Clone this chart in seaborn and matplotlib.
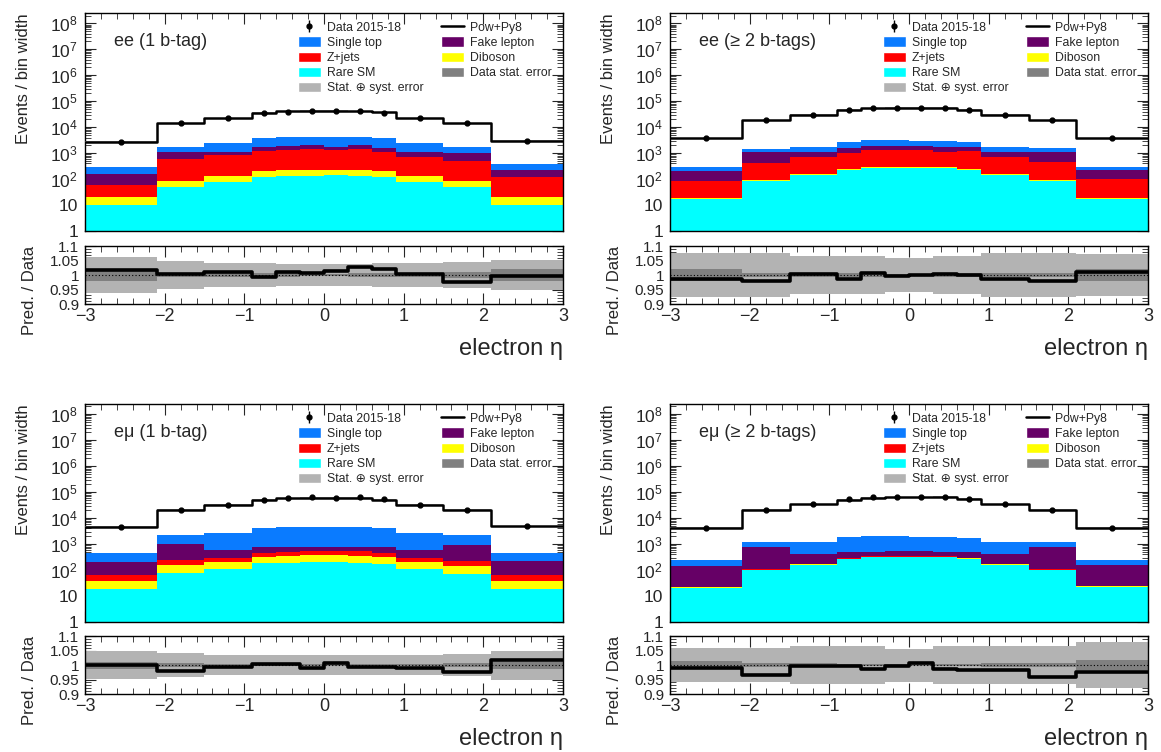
import numpy as np
import pandas as pd
import matplotlib
matplotlib.use('Agg')
import matplotlib.pyplot as plt
import seaborn as sns
from matplotlib.patches import Patch
from matplotlib.lines import Line2D
from matplotlib.ticker import FixedLocator, MultipleLocator, LogLocator, NullFormatter

# Binning and process definitions
eta_edges = [-3, -2.1, -1.5, -0.9, -0.6, -0.3, 0, 0.3, 0.6, 0.9, 1.5, 2.1, 3]
processes = ['Rare SM', 'Diboson', 'Z+jets', 'Fake lepton', 'Single top']   # bottom -> top of stack
proc_colors = ['#00ffff', '#ffff00', '#ff0000', '#660066', '#0a7bff']

# ee, 1 b-tag
ee1b_rare = [10, 48, 74, 119, 130, 137, 141, 137, 123, 74, 48, 10]
ee1b_diboson = [10, 40, 52, 82, 90, 97, 93, 91, 78, 60, 40, 10]
ee1b_zjets = [37, 530, 700, 1060, 1080, 1190, 1070, 1220, 910, 560, 400, 100]
ee1b_fake = [107, 530, 280, 430, 540, 580, 480, 550, 520, 390, 530, 95]
ee1b_single = [124, 640, 1290, 2030, 2230, 2350, 2290, 2350, 2090, 1320, 670, 150]
ee1b_total = [2770, 14100, 21900, 36300, 40600, 43500, 43500, 41600, 37200, 21900, 14100, 2950]
ee1b_ratio = [1.017, 1.003, 1.009, 0.994, 1.011, 1.006, 1.013, 1.028, 1.021, 1.003, 0.977, 0.997]
ee1b_syst = [0.061, 0.048, 0.040, 0.040, 0.038, 0.037, 0.037, 0.038, 0.040, 0.040, 0.045, 0.053]
ee1b_stat = [0.019, 0.008, 0.007, 0.006, 0.006, 0.005, 0.005, 0.006, 0.006, 0.007, 0.009, 0.020]

# ee, >= 2 b-tags
ee2b_rare = [17, 86, 146, 228, 270, 270, 270, 270, 234, 146, 88, 17.5]
ee2b_diboson = [1, 5, 9, 14, 16, 16, 16, 16, 14, 9, 5, 1]
ee2b_zjets = [70, 315, 540, 810, 1085, 1085, 1005, 825, 940, 585, 345, 82]
ee2b_fake = [120, 742, 455, 580, 590, 590, 670, 580, 600, 410, 673, 127]
ee2b_single = [80, 360, 590, 990, 1180, 1260, 1060, 1170, 910, 590, 440, 78]
ee2b_total = [3720, 18300, 30300, 45700, 52900, 55000, 55000, 55000, 47300, 29500, 18300, 3720]
ee2b_ratio = [0.987, 0.979, 1.002, 0.986, 1.006, 0.997, 0.999, 1.003, 0.999, 0.986, 0.978, 1.009]
ee2b_syst = [0.075, 0.075, 0.066, 0.066, 0.066, 0.060, 0.060, 0.066, 0.066, 0.075, 0.075, 0.072]
ee2b_stat = [0.020, 0.008, 0.007, 0.006, 0.006, 0.005, 0.005, 0.006, 0.006, 0.007, 0.008, 0.020]

# emu, 1 b-tag
em1b_rare = [18.6, 74, 112, 180, 191, 197, 197, 191, 175, 112, 72, 18.6]
em1b_diboson = [20, 81, 96, 145, 165, 169, 169, 165, 150, 91, 75, 19]
em1b_zjets = [25, 80, 89, 125, 154, 174, 174, 194, 125, 94, 68, 26]
em1b_fake = [146, 795, 293, 295, 280, 250, 250, 240, 295, 293, 725, 158]
em1b_single = [227, 1120, 2060, 3405, 3860, 3860, 3860, 3860, 3405, 2060, 1210, 243]
em1b_total = [4650, 20900, 32600, 51000, 59000, 62000, 62000, 62000, 52000, 32600, 20900, 4900]
em1b_ratio = [1.000, 0.980, 0.992, 1.003, 1.003, 0.989, 1.006, 0.992, 0.994, 0.990, 0.977, 1.017]
em1b_syst = [0.048, 0.043, 0.035, 0.035, 0.035, 0.035, 0.035, 0.035, 0.035, 0.035, 0.038, 0.050]
em1b_stat = [0.012, 0.006, 0.005, 0.004, 0.004, 0.004, 0.004, 0.004, 0.004, 0.005, 0.006, 0.012]

# emu, >= 2 b-tags
em2b_rare = [21, 97, 160, 265, 308, 316, 316, 308, 273, 160, 100, 23]
em2b_diboson = [0.6, 3, 5, 8, 9, 9, 9, 9, 8, 5, 3, 0.7]
em2b_zjets = [1.2, 6, 10, 16, 18, 19, 19, 18, 16, 10, 6, 1.4]
em2b_fake = [120, 663, 246, 228, 183, 175, 175, 183, 220, 246, 660, 127]
em2b_single = [93, 425, 746, 1304, 1454, 1454, 1405, 1344, 1194, 776, 425, 89]
em2b_total = [4250, 20400, 33700, 52000, 62000, 64000, 64000, 64000, 54000, 33700, 20400, 4250]
em2b_ratio = [0.989, 0.964, 0.995, 0.995, 0.987, 0.998, 1.007, 0.986, 0.983, 0.984, 0.957, 0.976]
em2b_syst = [0.060, 0.060, 0.066, 0.066, 0.066, 0.057, 0.057, 0.066, 0.066, 0.066, 0.066, 0.078]
em2b_stat = [0.015, 0.007, 0.006, 0.005, 0.005, 0.005, 0.005, 0.005, 0.005, 0.006, 0.007, 0.018]

region_labels = ['ee (1 b-tag)', 'ee (\u2265 2 b-tags)', 'e\u03bc (1 b-tag)', 'e\u03bc (\u2265 2 b-tags)']

# Style
sns.set_theme(style='ticks')
plt.rcParams['font.family'] = ['Liberation Sans', 'DejaVu Sans']
plt.rcParams['mathtext.default'] = 'regular'
plt.rcParams['axes.linewidth'] = 1.0

light_gray = '#b3b3b3'
dark_gray = '#808080'

edges = np.array(eta_edges)
centers = (edges[:-1] + edges[1:]) / 2


def step_ext(vals):
    vals = np.asarray(vals, dtype=float)
    return np.append(vals, vals[-1])


def draw_region(ax, axr, label, yields, total, ratio, syst, stat):
    # stacked backgrounds through seaborn's weighted histogram
    # (seaborn puts the first hue level on top, so feed the order reversed)
    df = pd.DataFrame({'eta': np.tile(centers, len(processes)),
                       'events': np.concatenate([np.asarray(v, dtype=float) for v in yields]),
                       'process': np.repeat(processes, len(centers))})
    sns.histplot(data=df, x='eta', weights='events', hue='process', hue_order=processes[::-1],
                 palette=proc_colors[::-1], bins=eta_edges, multiple='stack', element='step',
                 fill=True, alpha=1, linewidth=0, legend=False, ax=ax)

    total = np.asarray(total, dtype=float)
    syst = np.asarray(syst)
    stat = np.asarray(stat)
    ratio = np.asarray(ratio)
    data = total / ratio

    ax.fill_between(edges, step_ext(total * (1 - syst)), step_ext(total * (1 + syst)),
                    step='post', color=light_gray, lw=0, zorder=3)
    sns.histplot(x=centers, weights=total, bins=eta_edges, element='step', fill=False,
                 color='black', linewidth=1.8, ax=ax, zorder=4)
    eb = ax.errorbar(centers, data, yerr=data * stat, fmt='o', color='black', ms=3.5,
                     elinewidth=1, capsize=0, zorder=5)

    ax.set_yscale('log')
    ax.set_xlim(-3, 3)
    ax.set_ylim(1, 2.5e8)
    ax.yaxis.set_major_locator(FixedLocator([10.0 ** k for k in range(9)]))
    ax.set_yticklabels(['1', '10'] + ['$10^{%d}$' % k for k in range(2, 9)])
    ax.yaxis.set_minor_locator(LogLocator(base=10, subs=np.arange(2, 10), numticks=20))
    ax.yaxis.set_minor_formatter(NullFormatter())
    ax.xaxis.set_major_locator(MultipleLocator(1))
    ax.xaxis.set_minor_locator(MultipleLocator(0.2))
    ax.tick_params(axis='x', labelbottom=False)
    ax.set_xlabel('')
    ax.set_ylabel('Events / bin width', fontsize=12, loc='top')
    ax.yaxis.set_label_coords(-0.112, 1.0)

    ax.text(0.06, 0.87, label, transform=ax.transAxes, fontsize=13, va='center', ha='left')

    # ROOT-like legend: two fixed columns, drawn as two legends
    leg_kw = dict(frameon=False, fontsize=8.8, loc='upper left', handlelength=1.85,
                  handleheight=0.95, labelspacing=0.22, handletextpad=0.5,
                  borderpad=0, borderaxespad=0)
    h1 = [eb, Patch(facecolor=proc_colors[4]), Patch(facecolor=proc_colors[2]),
          Patch(facecolor=proc_colors[0]), Patch(facecolor=light_gray)]
    n1 = ['Data 2015-18', 'Single top', 'Z+jets', 'Rare SM', 'Stat. \u2295 syst. error']
    h2 = [Line2D([], [], color='black', lw=1.8), Patch(facecolor=proc_colors[3]),
          Patch(facecolor=proc_colors[1]), Patch(facecolor=dark_gray)]
    n2 = ['Pow+Py8', 'Fake lepton', 'Diboson', 'Data stat. error']
    leg1 = ax.legend(h1, n1, bbox_to_anchor=(0.446, 0.962), **leg_kw)
    ax.add_artist(leg1)
    ax.legend(h2, n2, bbox_to_anchor=(0.745, 0.962), **leg_kw)

    # ratio panel
    axr.fill_between(edges, step_ext(1 - syst), step_ext(1 + syst), step='post',
                     color=light_gray, lw=0)
    axr.fill_between(edges, step_ext(1 - stat), step_ext(1 + stat), step='post',
                     color=dark_gray, lw=0)
    axr.axhline(1.0, color='black', lw=0.8, ls=(0, (1, 2)))
    sns.histplot(x=centers, weights=ratio, bins=eta_edges, element='step', fill=False,
                 color='black', linewidth=2.6, ax=axr)
    axr.set_xlim(-3, 3)
    axr.set_ylim(0.9, 1.1)
    axr.set_yticks([0.9, 0.95, 1.0, 1.05, 1.1])
    axr.set_yticklabels(['0.9', '0.95', '1', '1.05', '1.1'])
    axr.yaxis.set_minor_locator(MultipleLocator(0.01))
    axr.xaxis.set_major_locator(MultipleLocator(1))
    axr.xaxis.set_minor_locator(MultipleLocator(0.2))
    axr.set_ylabel('Pred. / Data', fontsize=12, loc='top')
    axr.yaxis.set_label_coords(-0.10, 1.0)
    axr.set_xlabel('electron \u03b7', fontsize=17, loc='right', labelpad=9)

    for a in (ax, axr):
        a.tick_params(which='both', direction='in', top=True, right=True)
        a.tick_params(which='major', length=8, width=0.8)
        a.tick_params(which='minor', length=4, width=0.6)
        for s in a.spines.values():
            s.set_color('black')
    ax.tick_params(axis='y', labelsize=12.5, pad=5)
    axr.tick_params(axis='y', labelsize=11, pad=4)
    axr.tick_params(axis='x', labelsize=13, pad=3)


fig = plt.figure(figsize=(11.61, 7.52), dpi=100)

col_left = [0.0732, 0.5771]
width = 0.4117
main_bottom = [0.6928, 0.1729]
ratio_bottom = [0.5957, 0.0771]
main_h = 0.2899
ratio_h = 0.0771

regions = [
    ([ee1b_rare, ee1b_diboson, ee1b_zjets, ee1b_fake, ee1b_single], ee1b_total, ee1b_ratio, ee1b_syst, ee1b_stat),
    ([ee2b_rare, ee2b_diboson, ee2b_zjets, ee2b_fake, ee2b_single], ee2b_total, ee2b_ratio, ee2b_syst, ee2b_stat),
    ([em1b_rare, em1b_diboson, em1b_zjets, em1b_fake, em1b_single], em1b_total, em1b_ratio, em1b_syst, em1b_stat),
    ([em2b_rare, em2b_diboson, em2b_zjets, em2b_fake, em2b_single], em2b_total, em2b_ratio, em2b_syst, em2b_stat),
]

for i, (yields, total, ratio, syst, stat) in enumerate(regions):
    row, col = divmod(i, 2)
    ax = fig.add_axes([col_left[col], main_bottom[row], width, main_h])
    axr = fig.add_axes([col_left[col], ratio_bottom[row], width, ratio_h])
    draw_region(ax, axr, region_labels[i], yields, total, ratio, syst, stat)

fig.savefig('out.png', dpi=100)
